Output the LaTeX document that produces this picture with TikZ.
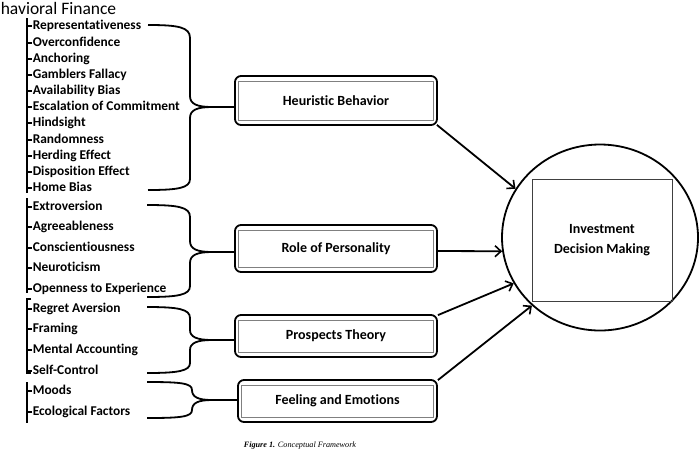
\documentclass[tikz,border=0pt]{standalone}
\usepackage{fontspec}
\setmainfont{Carlito}[Ligatures=NoCommon]
\newfontfamily\capfont{Liberation Serif}
\usetikzlibrary{arrows.meta,shapes.geometric}
\begin{document}
\begin{tikzpicture}[x=1pt,y=-1pt,line width=1.6pt,
  item/.style={anchor=west,inner sep=0pt,font=\bfseries\fontsize{13.4}{13.4}\selectfont,text height=9.2pt,text depth=3pt},
  catbox/.style={draw,rounded corners=6pt,line width=1.8pt,minimum width=202pt,font=\bfseries\fontsize{14}{14}\selectfont},
  innerline/.style={draw=gray,line width=0.9pt},
  brace/.style={line width=1.8pt},
  arr/.style={line width=1.8pt,-{Straight Barb[length=6pt,width=11pt,line width=1.6pt]}},
  vline/.style={line width=1.8pt},
  tick/.style={line width=1.2pt}]
\useasboundingbox (0,0) rectangle (700,448);
\clip (0,0) rectangle (700,448);

% title
\node[anchor=west,inner sep=0pt,font=\fontsize{17.5}{17.5}\selectfont] (title) at (0,8) {havioral Finance};

% items
\foreach \t/\y/\n in {Representativeness/26/i1,Overconfidence/43/i2,Anchoring/59/i3,Gamblers Fallacy/75/i4,Availability Bias/91/i5,Escalation of Commitment/107/i6,Hindsight/123/i7,Randomness/140/i8,Herding Effect/156/i9,Disposition Effect/172/i10,Home Bias/188/i11,Extroversion/207/j1,Agreeableness/227/j2,Conscientiousness/248/j3,Neuroticism/268/j4,Openness to Experience/289/j5,Regret Aversion/309/k1,Framing/329/k2,Mental Accounting/350/k3,Self-Control/371/k4,Moods/391/l1,Ecological Factors/412/l2}{
  \node[item] (\n) at (32,\y) {\t};
  \draw[tick] (27,\y) -- (\n.west);
}

% vertical lines
\draw[vline] (27,18) -- (27,193);
\draw[vline] (27,198) -- (27,293);
\draw[vline] (31,299) -- (27,299) -- (27,373) -- (31,373);
\draw[vline] (27,382) -- (27,423);

% category boxes
\node[catbox,minimum height=49pt] (hb) at (336,100.5) {Heuristic Behavior};
\node[catbox,minimum height=47pt] (rp) at (336,248.5) {Role of Personality};
\node[catbox,minimum height=42pt] (pt) at (336,336) {Prospects Theory};
\node[catbox,minimum width=199pt,minimum height=42pt] (fe) at (337.5,401) {Feeling and Emotions};
\foreach \b in {hb,rp,pt,fe}{
  \draw[innerline] ([shift={(4.5pt,5.5pt)}]\b.south west) rectangle ([shift={(-4.5pt,-6.5pt)}]\b.north east);
}

% braces
\coordinate (t1) at (212,107);
\draw[brace] (148,25) .. controls (178,25) and (190,27) .. (190,38) -- (190,96)
  .. controls (190,104) and (197,107) .. (t1) -- (hb.west |- t1);
\draw[brace] (t1) .. controls (197,107) and (190,110) .. (190,118) -- (190,179)
  .. controls (190,188) and (178,190) .. (148,190);

\coordinate (t2) at (212,252);
\draw[brace] (147,205) .. controls (178,205) and (190,207) .. (190,217) -- (190,241)
  .. controls (190,249) and (197,252) .. (t2) -- (rp.west |- t2);
\draw[brace] (t2) .. controls (197,252) and (190,255) .. (190,263) -- (190,286)
  .. controls (190,295) and (178,297) .. (147,297);

\coordinate (t3) at (212,340);
\draw[brace] (147,307) .. controls (178,307) and (190,309) .. (190,318) -- (190,330)
  .. controls (190,337) and (197,340) .. (t3) -- (pt.west |- t3);
\draw[brace] (t3) .. controls (197,340) and (190,343) .. (190,350) -- (190,363)
  .. controls (190,371) and (178,373) .. (147,373);

\coordinate (t4) at (212,400);
\draw[brace] (147,382) .. controls (180,382) and (192,383) .. (192,390)
  .. controls (192,397) and (198,400) .. (t4) -- (fe.west |- t4);
\draw[brace] (t4) .. controls (198,400) and (192,403) .. (192,410)
  .. controls (192,417) and (180,418) .. (147,418);

% decision circle
\node[draw,ellipse,line width=1.8pt,minimum width=196pt,minimum height=186pt] (dm) at (600,237.5) {};
\node[draw,line width=0.8pt,draw=black!75,minimum width=140pt,minimum height=122pt,align=center,
  font=\bfseries\fontsize{14}{20}\selectfont] (dmt) at (602,240) {Investment\\Decision Making};

% arrows
\draw[arr] ([shift={(-1pt,1pt)}]hb.south east) -- (dm.150);
\draw[arr] ([yshift=-2.5pt]rp.east) -- (dm.188);
\draw[arr] ([yshift=-1pt]pt.north east) -- (dm.208);
\draw[arr] ([yshift=-1pt]fe.north east) -- (dm.225);

% caption (cut off at the bottom, as in the original)
\node[anchor=north,inner sep=0pt,font=\capfont\fontsize{8.2}{8.2}\selectfont] (cap) at (300,441) {\textbf{\textit{Figure 1.}} \textit{Conceptual Framework}};
\end{tikzpicture}
\end{document}
